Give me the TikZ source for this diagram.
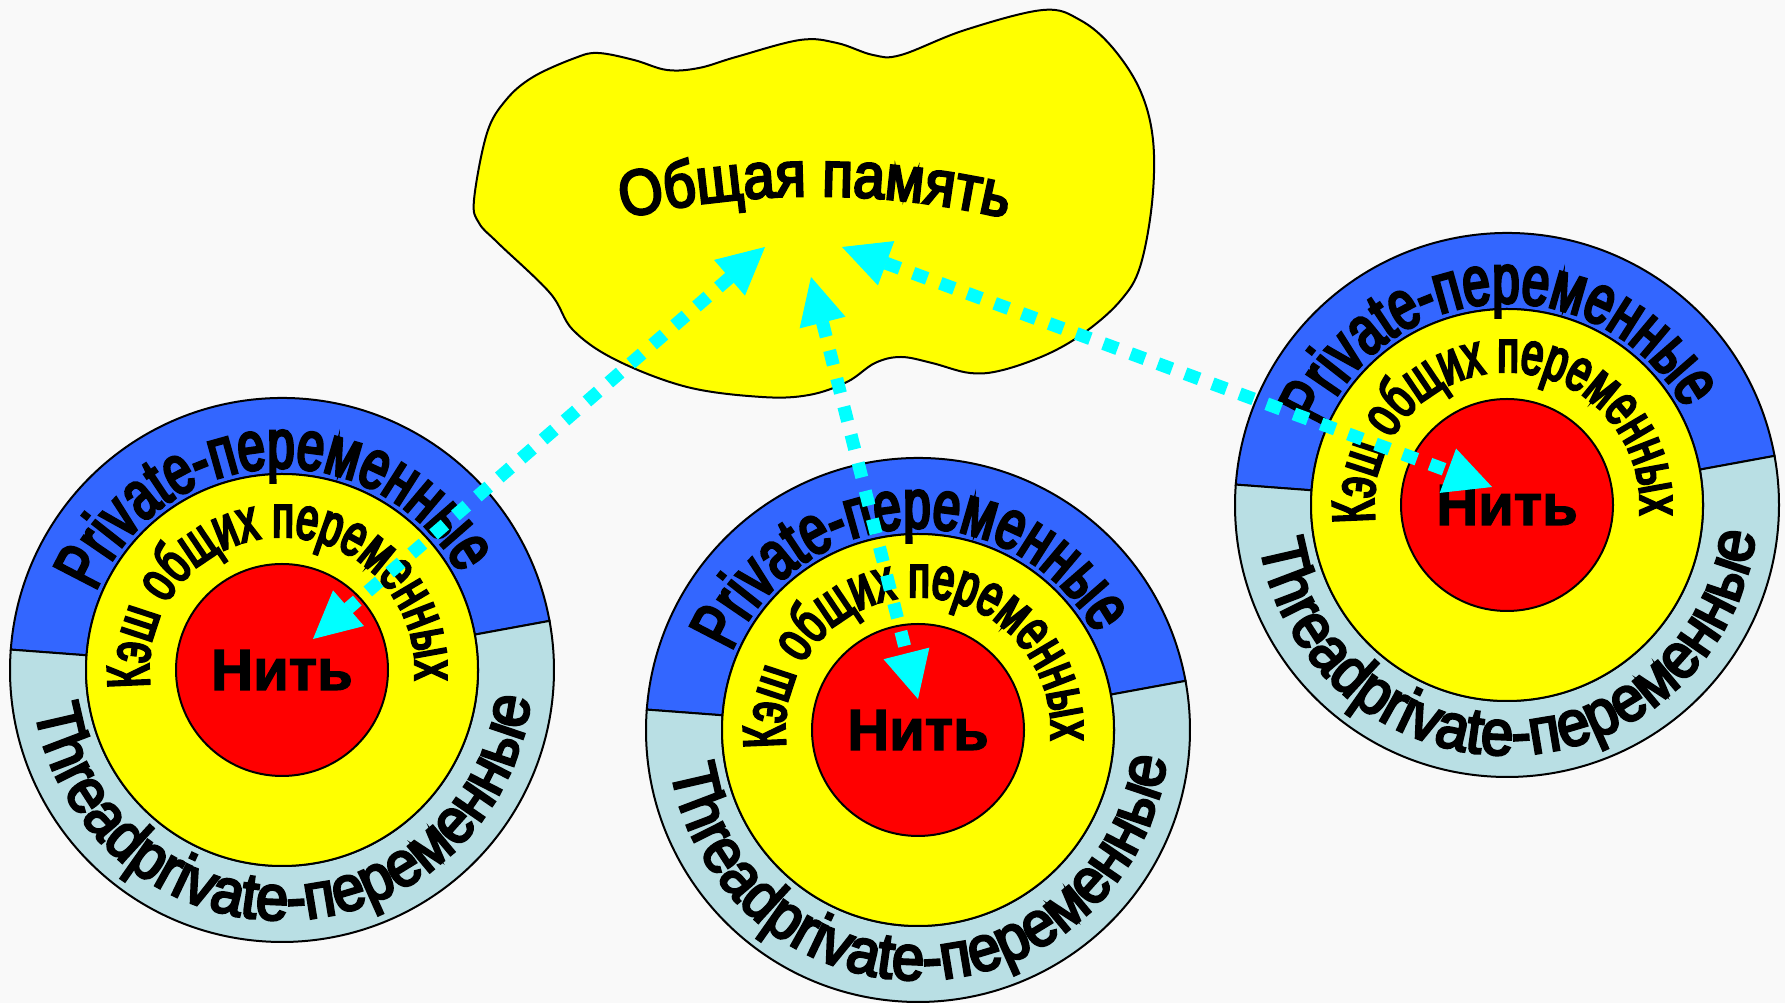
\documentclass[tikz,border=0pt]{standalone}
\usepackage{fontspec}
\setmainfont{Liberation Sans}
\newfontfamily\privf[FakeStretch=0.70,FakeBold=4]{Liberation Sans}
\newfontfamily\cachef[FakeStretch=0.66,FakeBold=4]{Liberation Sans}
\newfontfamily\threadf[FakeStretch=0.91,FakeBold=4]{Liberation Sans}
\newfontfamily\cloudf[FakeStretch=0.88,FakeBold=4]{Liberation Sans}
\newfontfamily\nitf[FakeBold=2]{Liberation Sans Bold}
\usetikzlibrary{decorations.text,arrows.meta}
\definecolor{ringblue}{RGB}{51,102,255}
\definecolor{ringlight}{RGB}{185,223,228}
\definecolor{bgcol}{RGB}{249,249,249}
\definecolor{flowcyan}{RGB}{0,255,255}
\definecolor{cacheyellow}{RGB}{255,255,0}
\definecolor{threadred}{RGB}{255,0,0}
\tikzset{
  outline/.style={draw=black, line width=2pt},
  yellowdisk/.style={circle, fill=cacheyellow, outline, minimum size=392pt, inner sep=0pt},
  threaddisk/.style={circle, fill=threadred, outline, minimum size=212pt, inner sep=0pt,
     font=\nitf\fontsize{58pt}{64pt}\selectfont},
  flow/.style={flowcyan, line width=13pt, dash pattern=on 15pt off 14pt,
     arrows={Triangle[length=47pt,width=47pt,line width=1pt]-Triangle[length=47pt,width=47pt,line width=1pt]}},
}
\newcommand\ThreadUnit[4]{%
\begin{scope}[shift={(#1)}]
  \path[outline, fill=ringblue] (10.4:196pt) -- (10.4:272pt)
     arc[start angle=10.4, end angle=175.7, radius=272pt] -- (175.7:196pt)
     arc[start angle=175.7, end angle=10.4, radius=196pt] -- cycle;
  \path[outline, fill=ringlight] (175.7:196pt) -- (175.7:272pt)
     arc[start angle=175.7, end angle=370.4, radius=272pt] -- (370.4:196pt)
     arc[start angle=370.4, end angle=175.7, radius=196pt] -- cycle;
  \node[yellowdisk] (y#2) at (0,0) {};
  \node[threaddisk] (t#2) at (0,0) {Нить};
  \path[decorate, decoration={text along path, text align=center,
     text={|\privf\fontsize{70pt}{70pt}\selectfont|Private-переменные}}]
     (172.8:202pt) arc[start angle=172.8, end angle=12.8, radius=202pt];
  \path[decorate, decoration={text along path, text align=center,
     text={|\cachef\fontsize{60pt}{60pt}\selectfont|Кэш общих переменных}}]
     (191.5:133pt) arc[start angle=191.5, end angle=-8.5, radius=133pt];
  \path[decorate, decoration={text along path, text align=center,
     text={|\threadf\fontsize{64pt}{64pt}\selectfont|Threadprivate-переменные}}]
     (176.25:250pt) arc[start angle=176.25, end angle=366.25, radius=250pt];
  \coordinate (e#2) at (#3,#4);
\end{scope}}

\begin{document}
\begin{tikzpicture}[x=1pt,y=1pt]
\useasboundingbox (0,0) rectangle (1785,1003);
\fill[bgcol] (0,0) rectangle (1785,1003);

% shared memory cloud
\path[outline, fill=cacheyellow] plot[smooth cycle, tension=0.6] coordinates {
 (474,803) (487,870) (506,903) (533,926) (575,945) (598,950) (634,943) (667,933)
 (699,935) (736,946) (800,963) (837,960) (873,948) (901,948) (965,973) (1043,993)
 (1080,983) (1112,956) (1140,913) (1153,863) (1152,800) (1140,736) (1121,703)
 (1088,673) (1050,650) (1003,633) (970,630) (932,640) (901,646) (875,640)
 (847,621) (809,608) (762,606) (687,616) (616,643) (573,673) (550,710)
 (498,760) (479,780)};
\coordinate (mem) at (815,790);
\path[decorate, decoration={text along path, text align=center,
   text={|\cloudf\fontsize{64pt}{64pt}\selectfont|Общая память}}]
   (815,-23) ++(115:830pt) arc[start angle=115, end angle=65, radius=830pt];
\coordinate (m1) at (765,756);
\coordinate (m2) at (811,726);
\coordinate (m3) at (842,756);

% threads
\ThreadUnit{282,333}{1}{31}{31}
\ThreadUnit{918,273}{2}{0}{31}
\ThreadUnit{1507,498}{3}{-15}{18}

% data flows
\draw[flow] (m1) -- (e1);
\draw[flow] (m2) -- (e2);
\draw[flow] (m3) -- (e3);
\end{tikzpicture}
\end{document}
